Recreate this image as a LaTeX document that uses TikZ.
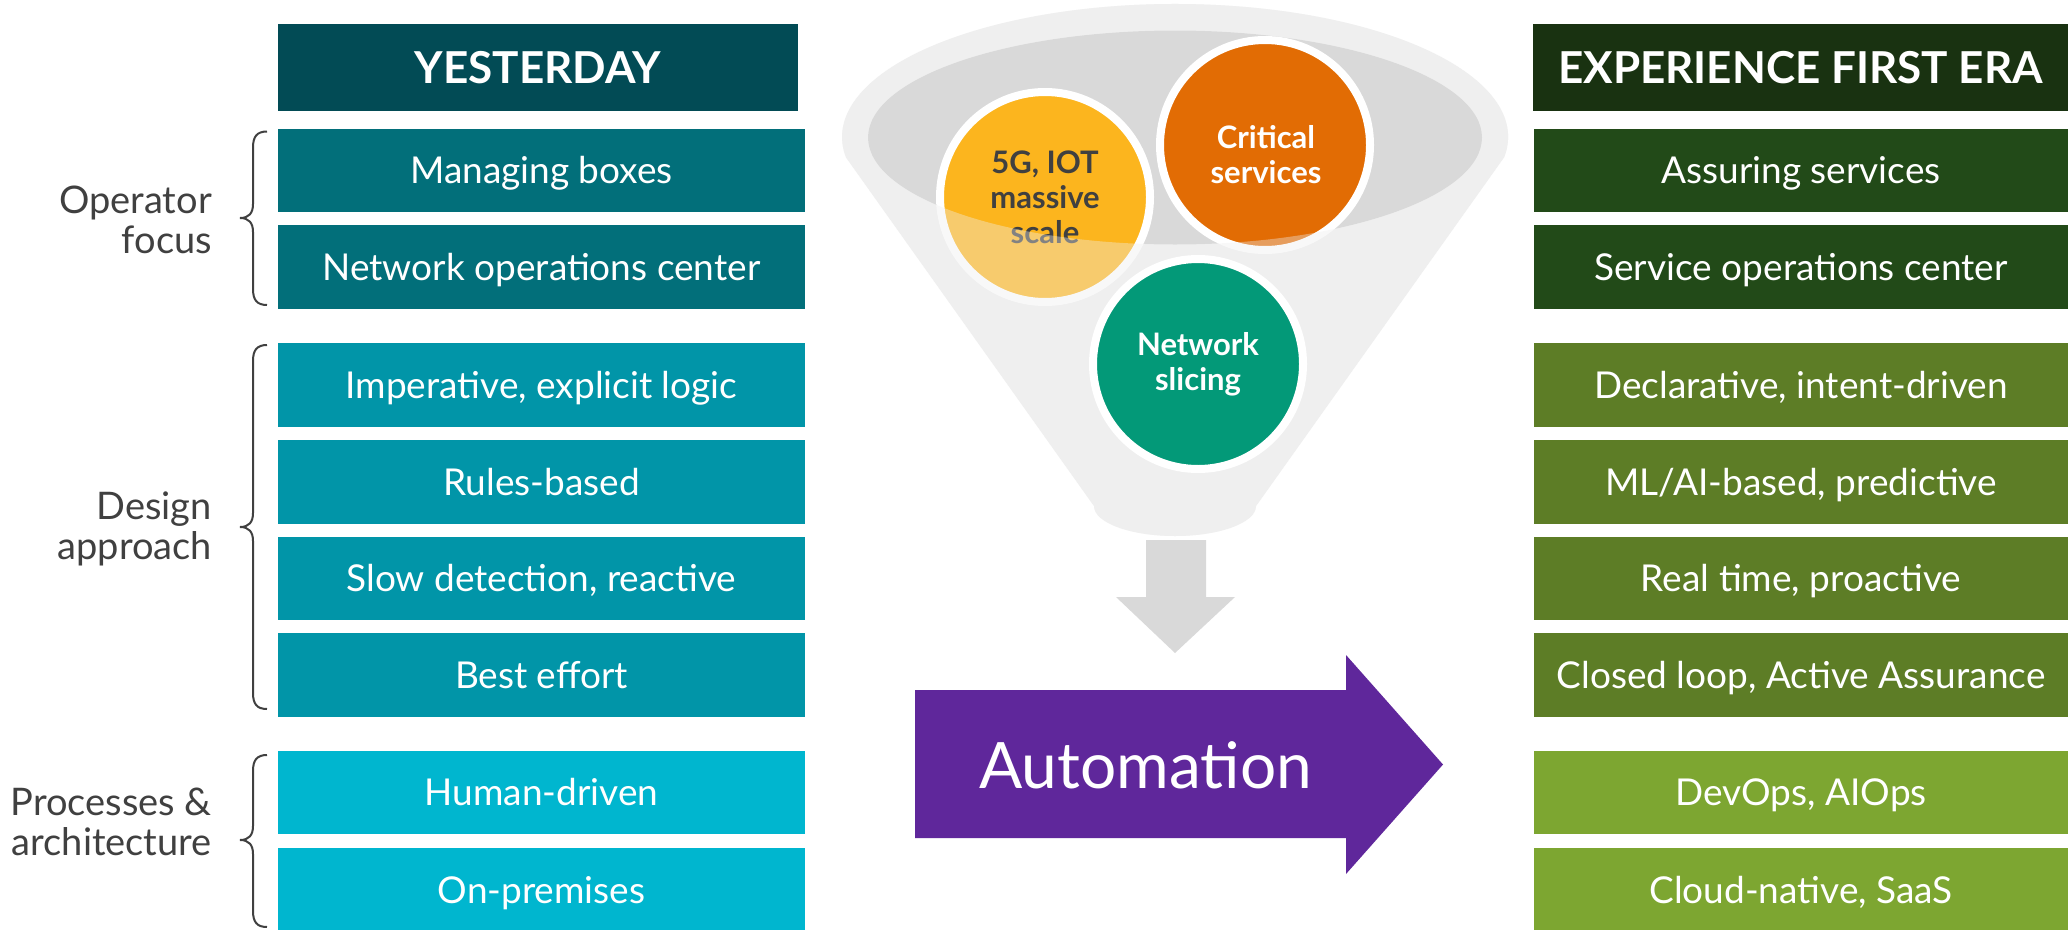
\documentclass[tikz,border=0pt]{standalone}
\usepackage{fontspec}
\setmainfont{Lato}
\definecolor{hdrL}{HTML}{024B55}
\definecolor{opL}{HTML}{026F7A}
\definecolor{desL}{HTML}{0195A8}
\definecolor{proL}{HTML}{00B6CF}
\definecolor{hdrR}{HTML}{193211}
\definecolor{opR}{HTML}{224A18}
\definecolor{desR}{HTML}{5D7D26}
\definecolor{proR}{HTML}{7DA631}
\definecolor{purplec}{HTML}{5F279B}
\definecolor{yellowc}{HTML}{FCB51E}
\definecolor{orangec}{HTML}{E26C04}
\definecolor{greenc}{HTML}{039978}
\definecolor{labc}{HTML}{404040}
\definecolor{funnelc}{HTML}{EFEFEF}
\definecolor{innerc}{HTML}{D9D9D9}
\newcommand\curlybr[3]{%
  \draw[bracec] (267,#1) .. controls (257,#1) and (253,#1+5) .. (253,#1+16)
    -- (253,#2-14) .. controls (253,#2-5) and (249,#2) .. (240,#2)
    .. controls (249,#2) and (253,#2+5) .. (253,#2+14)
    -- (253,#3-16) .. controls (253,#3-5) and (257,#3) .. (267,#3);}
\newcommand\funnelpath{(845.8,157.1) -- (1094,506) arc[start angle=180, end angle=0, x radius=81, y radius=30] -- (1504.2,157.1) arc[start angle=8.7, end angle=-188.7, x radius=333, y radius=133] -- cycle}
\begin{document}
\begin{tikzpicture}[x=1pt,y=-1pt,
  rowbox/.style={rectangle, inner sep=0pt, minimum height=83.5pt, text=white,
    font=\fontsize{37}{44}\selectfont, text height=26.5pt, text depth=0pt},
  lrow/.style={rowbox, minimum width=527pt},
  rrow/.style={rowbox, minimum width=534pt},
  hdrbox/.style={rectangle, inner sep=0pt, minimum height=87pt, text=white,
    font=\bfseries\fontsize{44}{50}\selectfont, text height=31.5pt, text depth=0pt},
  lab/.style={anchor=base east, align=right, text=labc, inner sep=0pt,
    font=\fontsize{38}{40}\selectfont},
  bracec/.style={draw=labc, line width=2pt},
  circ/.style={circle, minimum size=210pt, inner sep=0pt, draw=white, line width=8pt,
    align=center, font=\bfseries\fontsize{31}{35}\selectfont},
  circtext/.style={align=center, inner sep=0pt, font=\bfseries\fontsize{31}{35}\selectfont},
]
\useasboundingbox (0,0) rectangle (2068,929);
\fill[white] (0,0) rectangle (2068,929);

% left column
\node[hdrbox, fill=hdrL, minimum width=520pt] (yh) at (538,67.5) {YESTERDAY};
\node[lrow, fill=opL] (l1) at (541.5,170.6) {Managing boxes};
\node[lrow, fill=opL] (l2) at (541.5,267.2) {Network operations center};
\node[lrow, fill=desL] (l3) at (541.5,385) {Imperative, explicit logic};
\node[lrow, fill=desL] (l4) at (541.5,482.2) {Rules-based};
\node[lrow, fill=desL] (l5) at (541.5,578.5) {Slow detection, reactive};
\node[lrow, fill=desL] (l6) at (541.5,674.8) {Best effort};
\node[lrow, fill=proL] (l7) at (541.5,792.3) {Human-driven};
\node[lrow, fill=proL] (l8) at (541.5,890) {On-premises};

% right column
\node[hdrbox, fill=hdrR, minimum width=535pt] (rh) at (1800.5,67.5) {EXPERIENCE FIRST ERA};
\node[rrow, fill=opR] (r1) at (1801,170.6) {Assuring services};
\node[rrow, fill=opR] (r2) at (1801,267.2) {Service operations center};
\node[rrow, fill=desR] (r3) at (1801,385) {Declarative, intent-driven};
\node[rrow, fill=desR] (r4) at (1801,482.2) {ML/AI-based, predictive};
\node[rrow, fill=desR] (r5) at (1801,578.5) {Real time, proactive};
\node[rrow, fill=desR] (r6) at (1801,674.8) {Closed loop, Active Assurance};
\node[rrow, fill=proR] (r7) at (1801,792.3) {DevOps, AIOps};
\node[rrow, fill=proR] (r8) at (1801,890) {Cloud-native, SaaS};

% labels and braces (base anchor = last line)
\node[lab] (lop) at (212,253.6) {Operator\\focus};
\node[lab] (ldes) at (212,559) {Design\\approach};
\node[lab] (lpro) at (212,855) {Processes \&\\architecture};
\curlybr{131.5}{218}{305}
\curlybr{345}{527}{709}
\curlybr{755}{840}{927}

% funnel
\fill[funnelc] \funnelpath;
\fill[innerc] (1175,137.5) ellipse [x radius=307, y radius=107];
\node[circ, fill=yellowc, text=labc] (c5g) at (1045,197) {5G, IOT\\massive\\scale};
\node[circ, fill=orangec] (ccrit) at (1265,145) {};
\node[circtext, text=white] (tcrit) at (1266,155) {Critical\\services};
\fill[funnelc, opacity=0.38, even odd rule] \funnelpath (1175,137.5) ellipse [x radius=307, y radius=107];
\node[circ, fill=greenc, text=white] (cnet) at (1198,364) {Network\\slicing};

% down arrow
\fill[innerc] (1146,540) -- (1206,540) -- (1206,597) -- (1235,597) -- (1175,653)
  -- (1116,597) -- (1146,597) -- cycle;

% automation arrow
\fill[purplec] (915,690) -- (1346,690) -- (1346,655) -- (1443,764.5) -- (1346,874)
  -- (1346,838) -- (915,838) -- cycle;
\node[font=\fontsize{64}{70}\selectfont, text=white, text height=45.9pt, text depth=0pt,
  inner sep=0pt] (auto) at (1145.5,766) {Automation};
\end{tikzpicture}
\end{document}
